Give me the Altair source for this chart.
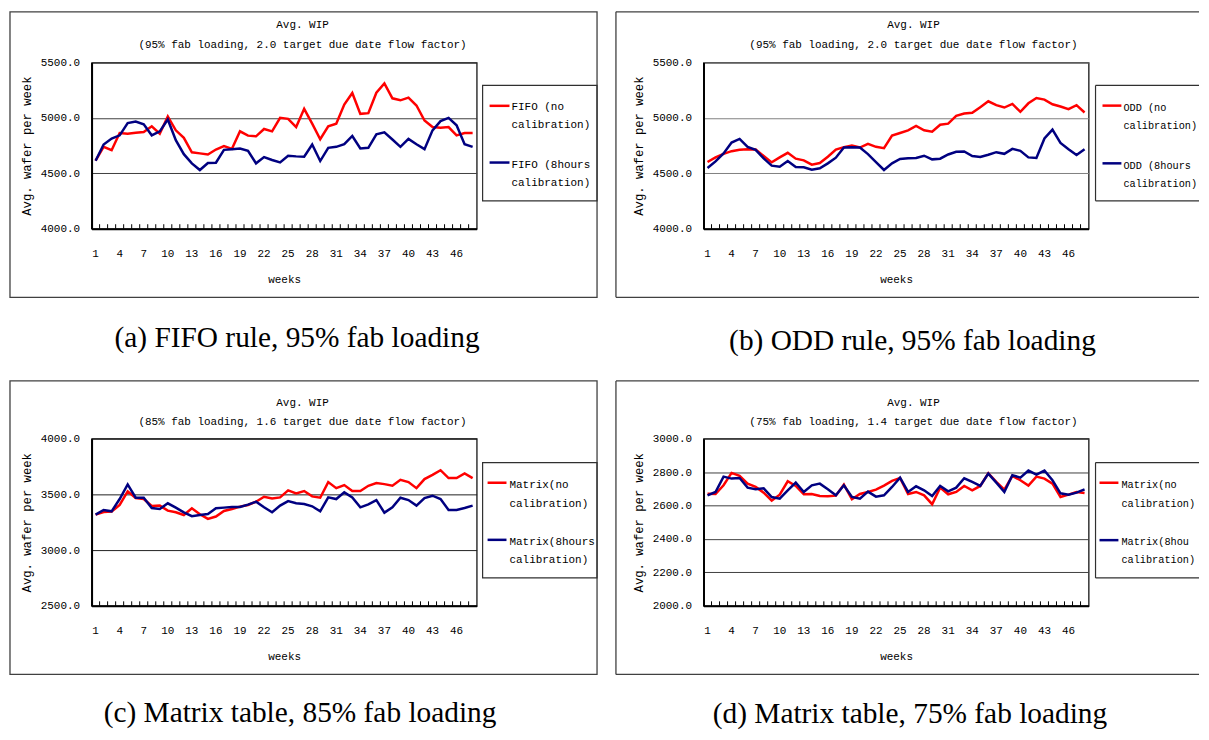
import altair as alt
import pandas as pd

weeks = list(range(1, 49))
week_labels = list(range(1, 48, 3))

fifo_no_cal = [4615, 4739, 4709, 4864, 4858, 4867, 4873, 4924, 4858, 5013,
               4888, 4820, 4690, 4680, 4670, 4715, 4745, 4721, 4879, 4840,
               4834, 4900, 4879, 5001, 4992, 4918, 5082, 4948, 4808, 4924,
               4948, 5120, 5225, 5037, 5043, 5228, 5311, 5177, 5159, 5183,
               5112, 4977, 4918, 4912, 4918, 4843, 4864, 4864]
fifo_8h_cal = [4614, 4760, 4814, 4843, 4954, 4968, 4942, 4843, 4879, 4986,
               4799, 4673, 4590, 4530, 4593, 4596, 4712, 4718, 4724, 4703,
               4590, 4647, 4620, 4599, 4659, 4653, 4650, 4760, 4611, 4730,
               4739, 4763, 4837, 4724, 4730, 4852, 4870, 4805, 4739, 4811,
               4763, 4718, 4888, 4971, 5000, 4933, 4763, 4739]
odd_no_cal = [4602, 4644, 4676, 4700, 4712, 4718, 4715, 4656, 4599, 4644,
              4685, 4632, 4617, 4578, 4593, 4650, 4715, 4736, 4751, 4733,
              4766, 4739, 4727, 4840, 4864, 4888, 4927, 4888, 4876, 4939,
              4948, 5019, 5040, 5046, 5097, 5150, 5115, 5094, 5126, 5055,
              5132, 5180, 5165, 5123, 5103, 5079, 5115, 5049]
odd_8h_cal = [4548, 4608, 4679, 4778, 4811, 4739, 4712, 4635, 4569, 4560,
              4611, 4557, 4554, 4533, 4545, 4590, 4641, 4733, 4736, 4733,
              4673, 4602, 4530, 4590, 4629, 4635, 4638, 4659, 4626, 4632,
              4670, 4694, 4697, 4656, 4647, 4668, 4691, 4676, 4721, 4703,
              4644, 4638, 4814, 4894, 4775, 4718, 4665, 4718]
matrix85_no_cal = [3318, 3342, 3345, 3405, 3527, 3467, 3458, 3396, 3399, 3354,
                   3339, 3315, 3375, 3321, 3280, 3301, 3351, 3369, 3390, 3405,
                   3434, 3479, 3464, 3473, 3536, 3509, 3530, 3482, 3470, 3610,
                   3556, 3583, 3530, 3530, 3577, 3601, 3592, 3577, 3631, 3610,
                   3556, 3637, 3675, 3717, 3646, 3646, 3687, 3646]
matrix85_8h_cal = [3318, 3360, 3348, 3458, 3589, 3470, 3470, 3378, 3369, 3420,
                   3381, 3339, 3304, 3315, 3324, 3375, 3381, 3387, 3387, 3408,
                   3434, 3384, 3339, 3399, 3440, 3420, 3414, 3393, 3348, 3473,
                   3458, 3518, 3473, 3384, 3411, 3449, 3336, 3384, 3470, 3449,
                   3399, 3467, 3488, 3458, 3360, 3360, 3378, 3399]
matrix75_no_cal = [2671, 2669, 2721, 2795, 2777, 2731, 2711, 2677, 2629, 2665,
                   2745, 2717, 2667, 2669, 2657, 2655, 2659, 2725, 2637, 2669,
                   2681, 2695, 2719, 2747, 2765, 2669, 2681, 2661, 2608, 2707,
                   2667, 2681, 2717, 2691, 2717, 2793, 2741, 2695, 2777, 2751,
                   2719, 2773, 2761, 2731, 2651, 2665, 2681, 2675]
matrix75_8h_cal = [2661, 2681, 2773, 2761, 2765, 2707, 2697, 2703, 2651, 2641,
                   2691, 2737, 2681, 2721, 2731, 2697, 2661, 2721, 2651, 2641,
                   2683, 2653, 2661, 2711, 2767, 2681, 2715, 2691, 2657, 2717,
                   2685, 2707, 2763, 2741, 2717, 2791, 2737, 2681, 2781, 2767,
                   2809, 2785, 2809, 2751, 2673, 2665, 2677, 2697]

MONO = "Liberation Mono"
SERIF = "Liberation Serif"
RED = "#FF0000"
NAVY = "#000080"
W = 387
ONE = pd.DataFrame({"k": [0]})


def vrule(x, y1, y2, color="#404040", w=1.3):
    return alt.Chart(ONE).mark_rule(color=color, strokeWidth=w).encode(
        x=alt.value(x), y=alt.value(y1), y2=alt.value(y2))


def hrule(y, x1, x2, color="#404040", w=1.3):
    return alt.Chart(ONE).mark_rule(color=color, strokeWidth=w).encode(
        y=alt.value(y), x=alt.value(x1), x2=alt.value(x2))


def label(text, x, y, font=MONO, size=11, align="center", baseline="middle", **kw):
    return alt.Chart(ONE).mark_text(font=font, fontSize=size, align=align, baseline=baseline,
                                    color="black", **kw).encode(
        x=alt.value(x), y=alt.value(y), text=alt.value(text))


def panel(s_no, s_cal, lbl_no, lbl_cal, ydom, ystep, subtitle, caption, geo):
    H = geo["h"]
    yvals = list(range(ydom[0], ydom[1] + 1, ystep))
    xaxis = alt.Axis(values=week_labels, labelAngle=0, ticks=False, tickSize=0, labelPadding=19,
                     labelFont=MONO, labelFontSize=11, labelColor="black", labelOverlap=False,
                     labelFlush=False, domainColor="black", domainWidth=2, grid=False,
                     title="weeks", titleFont=MONO, titleFontSize=11, titleFontWeight="normal",
                     titleColor="black", titleX=W / 2, titleY=51, titleBaseline="middle",
                     titleAlign="center")
    xscale = alt.Scale(type="band", paddingInner=0, paddingOuter=0)
    yaxis = alt.Axis(values=yvals, format=".1f", ticks=False, tickSize=0, labelPadding=12,
                     labelFont=MONO, labelFontSize=11, labelColor="black",
                     domainColor="black", domainWidth=2, grid=True, gridColor=geo["grid"],
                     gridWidth=1, title="Avg. wafer per week", titleFont=MONO, titleFontSize=12.3,
                     titleFontWeight="normal", titleColor="black", titleX=-65, titleY=H / 2,
                     titleAngle=270, titleAlign="center", titleBaseline="middle")
    yscale = alt.Scale(domain=list(ydom), nice=False, zero=False)

    def line(values, name, color):
        df = pd.DataFrame({"week": weeks, "wip": values, "series": name})
        return alt.Chart(df).mark_line(color=color, strokeWidth=2.5).encode(
            x=alt.X("week:O", scale=xscale, axis=xaxis, bandPosition=0.5),
            y=alt.Y("wip:Q", scale=yscale, axis=yaxis),
            detail="series:N")

    ticks = alt.Chart(pd.DataFrame({"week": weeks})).mark_rule(color="black", strokeWidth=1).encode(
        x=alt.X("week:O", scale=xscale, axis=xaxis, bandPosition=0),
        y=alt.value(H), y2=alt.value(H - 4.5))

    layers = []
    fx1, fx2, fy1, fy2 = geo["frame"]
    layers.append(alt.Chart(ONE).mark_rect(opacity=0).encode(
        x=alt.value(fx1), x2=alt.value(fx2), y=alt.value(fy1), y2=alt.value(fy2)))
    bx1, bx2, by1, by2 = geo["box"]
    lx1, lx2, ly1, ly2 = geo["legbox"]
    if geo["open"]:
        layers += [vrule(bx1, by1, by2), hrule(by1, bx1, bx2), hrule(by2, bx1, bx2),
                   vrule(lx1, ly1, ly2, "#303030", 1.2), hrule(ly1, lx1, lx2, "#303030", 1.2),
                   hrule(ly2, lx1, lx2, "#303030", 1.2)]
    else:
        layers.append(alt.Chart(ONE).mark_rect(fillOpacity=0, stroke="#404040", strokeWidth=1.3).encode(
            x=alt.value(bx1), x2=alt.value(bx2), y=alt.value(by1), y2=alt.value(by2)))
        layers.append(alt.Chart(ONE).mark_rect(fillOpacity=0, stroke="#303030", strokeWidth=1.2).encode(
            x=alt.value(lx1), x2=alt.value(lx2), y=alt.value(ly1), y2=alt.value(ly2)))
    sx1, sx2 = geo["sym"]
    tx = geo["tx"]
    limit = lx2 - tx + 0.5
    for name, color, sy, ty in [(lbl_no, RED, geo["sy"][0], geo["ty"][0]),
                                (lbl_cal, NAVY, geo["sy"][1], geo["ty"][1])]:
        layers.append(hrule(sy, sx1, sx2, color, 2.5))
        layers.append(label(name, tx, ty, size=geo["lfs"], align="left", lineBreak="\n",
                            lineHeight=18.3, limit=limit, ellipsis=" "))
    layers.append(label("Avg. WIP", geo["tcx"], geo["ty1"]))
    layers.append(label(subtitle, geo["tcx"], geo["ty2"]))
    layers.append(label(caption, geo["cx"], geo["cy"], font=SERIF, size=29.5, baseline="alphabetic"))
    layers.append(ticks)
    layers.append(line(s_no, lbl_no.replace("\n", " "), RED))
    layers.append(line(s_cal, lbl_cal.replace("\n", " "), NAVY))
    return alt.layer(*layers).properties(width=W, height=H)


# left panels: frame 598 px wide; right panels: frame 595 px wide
geo_a = dict(h=167, grid="#404040", frame=(-82, 516, -51, 317), box=(-82, 508, -51, 236),
             legbox=(393, 508, 23, 139), open=False, sym=(400, 420), sy=(43.5, 100.5), tx=422,
             ty=(44.7, 103), lfs=11, tcx=212, ty1=-37.5, ty2=-18, cx=206.5, cy=286)
geo_b = dict(h=167, grid="#808080", frame=(-97, 498, -51, 317), box=(-88, 498, -51, 236),
             legbox=(394, 498, 23, 139), open=True, sym=(401, 420), sy=(43.3, 101.3), tx=422,
             ty=(45.3, 103.7), lfs=10.3, tcx=211, ty1=-37.5, ty2=-18, cx=210, cy=289)
geo_c = dict(h=168, grid="#202020", frame=(-82, 516, -58, 270), box=(-82, 508, -58, 237),
             legbox=(393, 508, 24, 140), open=False, sym=(398, 417), sy=(44.3, 101.7), tx=420,
             ty=(47, 103.7), lfs=11, tcx=212, ty1=-35.5, ty2=-17, cx=209.5, cy=285)
geo_d = dict(h=168, grid="#404040", frame=(-97, 498, -58, 270), box=(-88, 498, -58, 237),
             legbox=(394, 498, 24, 140), open=True, sym=(398, 417), sy=(44.3, 102), tx=420,
             ty=(47, 104), lfs=10.3, tcx=211, ty1=-35.5, ty2=-17, cx=207.5, cy=285.5)

pa = panel(fifo_no_cal, fifo_8h_cal, "FIFO (no\ncalibration)", "FIFO (8hours\ncalibration)",
           (4000, 5500), 500, "(95% fab loading, 2.0 target due date flow factor)",
           "(a) FIFO rule, 95% fab loading", geo_a)
pb = panel(odd_no_cal, odd_8h_cal, "ODD (no\ncalibration)", "ODD (8hours\ncalibration)",
           (4000, 5500), 500, "(95% fab loading, 2.0 target due date flow factor)",
           "(b) ODD rule, 95% fab loading", geo_b)
pc = panel(matrix85_no_cal, matrix85_8h_cal, "Matrix(no\ncalibration)", "Matrix(8hours\ncalibration)",
           (2500, 4000), 500, "(85% fab loading, 1.6 target due date flow factor)",
           "(c) Matrix table, 85% fab loading", geo_c)
pd_ = panel(matrix75_no_cal, matrix75_8h_cal, "Matrix(no\ncalibration)", "Matrix(8hours\ncalibration)",
            (2000, 3000), 200, "(75% fab loading, 1.4 target due date flow factor)",
            "(d) Matrix table, 75% fab loading", geo_d)

chart = alt.vconcat(
    alt.hconcat(pa, pb, spacing=0),
    alt.hconcat(pc, pd_, spacing=0),
    spacing=0,
).properties(padding=0, background="white").configure_view(stroke="black", strokeWidth=1.2)

chart.save("out.html", embed_options={"renderer": "svg", "actions": False})
